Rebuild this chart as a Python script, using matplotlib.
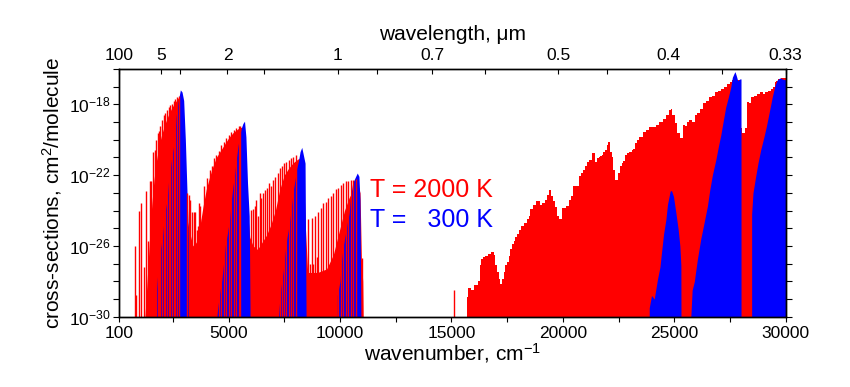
import numpy as np
import matplotlib
matplotlib.use("Agg")
from matplotlib import pyplot as plt
from matplotlib.ticker import FixedLocator, FuncFormatter

plt.rcParams['font.family'] = ['Liberation Sans', 'DejaVu Sans']
plt.rcParams['mathtext.fontset'] = 'custom'
plt.rcParams['mathtext.rm'] = 'Liberation Sans'
plt.rcParams['mathtext.it'] = 'Liberation Sans:italic'
plt.rcParams['mathtext.bf'] = 'Liberation Sans:bold'

# ---- T = 2000 K, infrared bands: solid part (wavenumber, log10 sigma)
ir_floor_wn = [1250, 1320, 1400, 1480, 1560, 1650, 1750, 1870, 2000, 2150, 2300, 2450,
               2600, 2760, 2830, 2900, 3000, 3100, 3250, 3400, 3550, 3700, 3850, 4000,
               4150, 4300, 4450, 4600, 4800, 5000, 5200, 5400, 5520, 5650, 5750, 5850,
               5950, 6100, 6300, 6500, 6700, 6900, 7100, 7300, 7500, 7700, 7900, 8100,
               8250, 8350, 8450, 8550, 9000, 9400, 9700, 10000, 10200, 10400, 10600,
               10800, 10900, 10960, 11020, 11040]
ir_floor_lg = [-30, -28.5, -26.8, -25, -23.6, -22.3, -21.3, -20.4, -19.7, -19.1, -18.6, -18.2,
               -17.9, -17.6, -17.6, -20, -23, -24.3, -25.2, -26, -25.8, -25, -23.8, -22.8,
               -22.1, -21.5, -21.0, -20.7, -20.3, -19.9, -19.6, -19.4, -19.3, -19.3, -21, -24,
               -25.5, -26, -26.2, -25.8, -25.4, -24.8, -24, -22.8, -22.0, -21.6, -21.3, -21.1,
               -21.0, -21.5, -25, -27.5, -27.5, -27.3, -26.5, -25, -24, -23.3, -22.8,
               -22.5, -23, -26.7, -28, -30]

# ---- T = 2000 K, infrared single lines (wavenumber, log10 sigma)
ir_lines_wn = [824, 868, 971, 1092, 1226, 1316, 1392, 1464, 1526, 1616, 1690, 1750, 1822,
               1867, 1943, 2019, 2091, 2166, 2242, 2314, 2388, 2466, 2538, 2612, 2690, 2762,
               3137, 3211, 3286, 3361, 3434, 3509, 3570, 3629, 3657, 3733, 3808, 3881, 3950,
               4033, 4150, 4256, 4330, 4436, 4553, 4673, 4776, 4883, 5000, 5120, 5224, 5331,
               5447, 5520,
               6016, 6090, 6170, 6240, 6300, 6418, 6470, 6560, 6640, 6718, 6821, 6900, 7000,
               7100, 7200, 7290, 7400, 7480, 7600, 7700, 7800, 7900, 8030,
               8581, 8650, 8730, 8800, 8880, 8950, 9028, 9149, 9252, 9370, 9476, 9580, 9700,
               9820, 9920, 10031, 10148, 10268, 10370, 10478, 10595, 10700, 10971,
               15116]
ir_lines_lg = [-26.0, -28.8, -24.0, -23.6, -27.2, -22.9, -25.7, -22.35, -22.35, -20.7, -20.6,
               -20.0, -19.6, -19.5, -19.2, -18.9, -18.6, -18.5, -18.3, -18.15, -18.05, -17.95,
               -17.8, -17.7, -17.6, -17.5,
               -23.0, -23.1, -23.4, -24.1, -24.1, -24.1, -25.1, -24.9, -23.6, -23.75, -24.5,
               -22.6, -23.5, -22.15, -21.7, -21.5, -21.05, -20.85, -20.65, -20.3, -20.1, -19.9,
               -19.75, -19.55, -19.45, -19.35, -19.25, -19.2,
               -23.95, -23.9, -23.75, -23.4, -24.3, -23.0, -23.3, -23.0, -22.85, -22.7, -22.45,
               -22.6, -22.3, -22.1, -21.9, -21.6, -21.5, -21.3, -21.25, -21.15, -21.05, -20.95,
               -20.85,
               -24.5, -27.0, -24.4, -27.0, -24.3, -26.6, -24.1, -23.85, -23.6, -23.5, -23.3,
               -23.2, -23.0, -22.8, -22.7, -22.55, -22.45, -22.35, -22.35, -22.25, -22.25,
               -22.2, -26.7,
               -28.5]

# ---- T = 2000 K, visible / UV envelope
vis_wn = [15715, 15715, 15787, 15950, 16117, 16230, 16297, 16370, 16459, 16566, 16713, 16861,
          16940, 17013, 17090, 17160, 17237, 17310, 17384, 17460, 17532, 17610, 17685, 17760,
          17830, 17908, 17980, 18050, 18204, 18320, 18428, 18500, 18580, 18730, 18875, 18950,
          19027, 19130, 19230, 19323, 19399, 19500, 19592, 19680, 19771, 19850, 20071, 20220,
          20339, 20430, 20518, 20670, 20786, 20880, 20966, 21040, 21116, 21260, 21382, 21490,
          21560, 21640, 21710, 21785, 21860, 21935, 22009, 22084, 22160, 22233, 22310, 22384,
          22460, 22530, 22608, 22680, 22760, 22830, 22904, 23055, 23130, 23200, 23280, 23350,
          23504, 23651, 23800, 23951, 24100, 24250, 24399, 24547, 24694, 24815, 24874, 24963,
          25070, 25142, 25218, 25330, 25442, 25520, 25600, 25742, 25850, 25966, 26100, 26234,
          26382, 26500, 26637, 26760, 26888, 27020, 27156, 27308, 27456, 27540, 27600, 27993,
          28007, 28100, 28200, 28306, 28400, 28499, 28650, 28800, 28920, 29030, 29150, 29278,
          29394, 29470, 29546, 29618, 29694, 29842, 30000]
vis_lg = [-30, -28.9, -28.4, -28.5, -28.2, -28.0, -27.1, -26.75, -26.65, -26.55, -26.45, -26.33,
          -26.5, -27.1, -27.5, -27.86, -28.14, -27.86, -27.5, -27.1, -26.93, -26.55, -26.2, -25.9,
          -25.7, -25.5, -25.3, -25.1, -24.87, -24.7, -24.5, -24.3, -23.94, -23.7, -23.47, -23.47,
          -23.66, -23.57, -23.38, -23.1, -22.82, -23.2, -23.47, -23.8, -24.3, -24.5, -23.85, -23.75,
          -23.38, -23.2, -22.63, -22.63, -22.07, -21.9, -21.7, -21.5, -21.23, -21.14, -20.76, -21.23,
          -21.05, -20.95, -20.9, -20.86, -20.7, -20.6, -20.3, -20.11, -20.7, -20.95, -21.7, -22.26,
          -22.3, -21.9, -21.5, -21.3, -21.2, -20.86, -20.76, -20.67, -20.58, -20.5, -20.2, -20.02,
          -19.83, -19.55, -19.46, -19.27, -19.27, -19.18, -18.99, -18.8, -18.62, -18.33, -18.28, -18.62,
          -19.08, -19.64, -19.64, -19.9, -19.18, -19.2, -19.0, -18.9, -19.0, -18.62, -18.5, -18.24,
          -17.93, -17.8, -17.59, -17.5, -17.31, -17.22, -17.12, -17.03, -16.84, -16.75, -16.6, -16.6,
          -19.36, -19.6, -19.36, -17.87, -17.9, -17.59, -17.5, -17.4, -17.31, -17.4, -17.31, -17.22,
          -17.12, -17.03, -16.75, -16.66, -16.56, -16.5, -16.5]

# ---- T = 300 K bands (wavenumber, log10 sigma)
b1_wn = [1688, 1688, 1800, 1943, 2030, 2136, 2242, 2314, 2450, 2583, 2645, 2734, 2838, 2913,
         2987, 3062, 3137, 3211, 3286, 3290]
b1_lg = [-30, -29.7, -27.9, -26.2, -25.5, -24.2, -23.4, -22.26, -21.0, -20.0, -18.7, -17.87,
         -17.18, -17.3, -17.78, -20.0, -23.0, -26.0, -29.5, -30]
b2_wn = [4480, 4480, 4584, 4704, 4780, 4852, 4955, 5045, 5120, 5197, 5268, 5344, 5420, 5493,
         5568, 5644, 5716, 5779, 5851, 5926, 5971, 5975]
b2_lg = [-30, -29.9, -28.8, -27.86, -26.93, -26.0, -25.25, -24.5, -23.47, -22.63, -21.98, -21.14,
         -20.39, -19.83, -19.36, -19.08, -18.95, -19.83, -22.44, -24.3, -29.9, -30]
b3_wn = [7240, 7240, 7345, 7463, 7537, 7612, 7686, 7792, 7910, 7985, 8061, 8133, 8209, 8285,
         8357, 8433, 8478, 8480]
b3_lg = [-30, -29.9, -28.4, -27.3, -26.36, -25.6, -25.06, -24.12, -22.8, -22.26, -21.6, -21.23,
         -20.67, -20.43, -20.86, -21.32, -29.9, -30]
b4_wn = [9879, 9879, 10000, 10075, 10148, 10255, 10327, 10416, 10478, 10568, 10671, 10774,
         10850, 10895, 10940, 10945]
b4_lg = [-30, -28.8, -28.0, -26.74, -26.0, -25.25, -24.7, -24.12, -23.2, -22.44, -22.16, -21.88,
         -22.07, -23.38, -29.9, -30]
b5_wn = [23875, 23875, 23978, 24100, 24248, 24355, 24427, 24517, 24623, 24694, 24815, 24874,
         24963, 25070, 25173, 25250, 25295, 25300]
b5_lg = [-30, -29.5, -28.8, -29.0, -27.86, -27.2, -26.36, -25.34, -24.5, -23.66, -22.9, -22.87,
         -23.2, -24.12, -25.06, -26.0, -27.1, -30]
b6_wn = [25742, 25800, 25900, 25934, 26037, 26188, 26337, 26485, 26593, 26710, 26861, 26976,
         27085, 27201, 27308, 27425, 27533, 27604, 27680, 27724, 27783, 27845, 27900, 27948,
         27993, 27994]
b6_lg = [-30, -28.5, -28.0, -27.67, -26.74, -25.6, -24.68, -23.75, -22.82, -21.98, -21.14, -20.39,
         -19.74, -18.9, -18.15, -17.59, -17.03, -16.47, -16.25, -16.15, -16.38, -16.66, -16.6, -16.56,
         -16.56, -30]
b7_wn = [28470, 28470, 28530, 28651, 28754, 28875, 29023, 29126, 29247, 29394, 29515, 29618,
         29739, 29842, 29931, 30000]
b7_lg = [-30, -24.2, -23.0, -22.07, -21.32, -20.58, -19.83, -19.27, -18.52, -17.59, -16.94, -16.62,
         -16.5, -16.56, -16.6, -16.6]
blue_bands = [(b1_wn, b1_lg), (b2_wn, b2_lg), (b3_wn, b3_lg), (b4_wn, b4_lg),
              (b5_wn, b5_lg), (b6_wn, b6_lg), (b7_wn, b7_lg)]

x_major = [100, 5000, 10000, 15000, 20000, 25000, 30000]
x_minor = [2500, 7500, 12500, 17500, 22500, 27500]
lam_major = [100, 5, 2, 1, 0.7, 0.5, 0.4, 0.33]
lam_labels = ['100', '5', '2', '1', '0.7', '0.5', '0.4', '0.33']
lam_minor = [3.5, 1.5, 0.85, 0.6, 0.45, 0.365]
y_labeled = [-30, -26, -22, -18]

RED = '#ff0000'
BLUE = '#0000ff'
BASE = 1e-30

fig = plt.figure(figsize=(8.5, 3.87), dpi=100)
ax = fig.add_axes([0.1404, 0.1817, 0.784, 0.640])

ax.fill_between(ir_floor_wn, BASE, 10.0 ** np.array(ir_floor_lg), color=RED, lw=0)
ax.fill_between(vis_wn, BASE, 10.0 ** np.array(vis_lg), color=RED, lw=0, step='mid')
ax.vlines(ir_lines_wn, BASE, 10.0 ** np.array(ir_lines_lg), color=RED, lw=1.0)
for wn, lg in blue_bands:
    ax.fill_between(wn, BASE, 10.0 ** np.array(lg), color=BLUE, lw=0)

ax.set_yscale('log')
ax.set_xlim(100, 30000)
ax.set_ylim(1e-30, 1e-16)

ax.xaxis.set_major_locator(FixedLocator(x_major))
ax.xaxis.set_minor_locator(FixedLocator(x_minor))
ax.set_xticklabels([str(v) for v in x_major])
ax.yaxis.set_major_locator(FixedLocator([10.0 ** k for k in range(-30, -15)]))
ax.yaxis.set_minor_locator(FixedLocator([]))
ax.yaxis.set_major_formatter(FuncFormatter(
    lambda v, p: r'10$^{%d}$' % round(np.log10(v)) if round(np.log10(v)) in y_labeled else ''))
ax.tick_params(axis='y', which='major', direction='out', length=4.5, width=0.8,
               labelsize=12.5, right=True, pad=2)
ax.tick_params(axis='x', which='both', direction='out', length=3.5, width=0.8,
               labelsize=12.5, top=False, pad=3)

ax2 = ax.twiny()
ax2.set_xlim(100, 1e4 / 0.33)
ax2.xaxis.set_major_locator(FixedLocator([1e4 / l for l in lam_major]))
ax2.xaxis.set_minor_locator(FixedLocator([1e4 / l for l in lam_minor]))
ax2.set_xticklabels(lam_labels)
ax2.tick_params(axis='x', which='both', direction='in', length=3.5, width=0.8,
                labelsize=12.5, pad=4)

for a in (ax, ax2):
    for s in a.spines.values():
        s.set_linewidth(1.0)

ax.set_xlabel('wavenumber, cm$^{-1}$', fontsize=15, labelpad=0)
ax2.set_xlabel('wavelength, μm', fontsize=15, labelpad=6)
ax.set_ylabel('cross-sections, cm$^2$/molecule', fontsize=15, labelpad=3)

ax.text(0.376, 0.51, 'T = 2000 K', color=RED, fontsize=18, transform=ax.transAxes,
        va='center', ha='left')
ax.text(0.376, 0.39, 'T =   300 K', color=BLUE, fontsize=18, transform=ax.transAxes,
        va='center', ha='left')

fig.savefig('out.png', dpi=100)
